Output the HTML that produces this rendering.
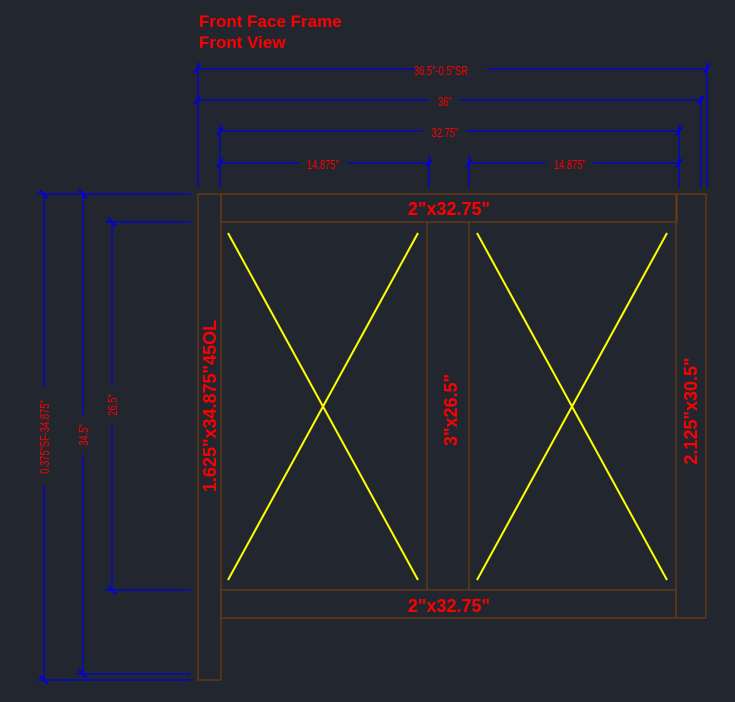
<!DOCTYPE html>
<html><head><style>
html,body{margin:0;padding:0;background:#22272f;}
svg{display:block;}
text{font-family:"Liberation Sans",sans-serif;fill:#ff0000;}
</style></head><body>
<svg width="735" height="702" viewBox="0 0 735 702">
<rect width="735" height="702" fill="#22272f"/>
<text x="199" y="27" font-size="17" font-weight="bold">Front Face Frame</text>
<text x="199" y="48" font-size="17" font-weight="bold">Front View</text>
<g stroke="#0000e0" stroke-width="1.3" fill="none">
<line x1="197" y1="69" x2="415" y2="69"/><line x1="487" y1="69" x2="707" y2="69"/>
<line x1="198" y1="62" x2="198" y2="187"/><line x1="707" y1="62" x2="707" y2="187"/>
<line x1="197" y1="100" x2="430" y2="100"/><line x1="460" y1="100" x2="701" y2="100"/>
<line x1="701" y1="96" x2="701" y2="187"/>
<line x1="220" y1="131" x2="423" y2="131"/><line x1="466" y1="131" x2="679" y2="131"/>
<line x1="220" y1="124" x2="220" y2="187"/><line x1="679" y1="124" x2="679" y2="187"/>
<line x1="220" y1="163" x2="299" y2="163"/><line x1="347" y1="163" x2="429" y2="163"/>
<line x1="469" y1="163" x2="546" y2="163"/><line x1="593" y1="163" x2="679" y2="163"/>
<line x1="429" y1="156" x2="429" y2="187"/><line x1="469" y1="156" x2="469" y2="187"/>
<line x1="37" y1="194" x2="191" y2="194"/><line x1="37" y1="680" x2="191" y2="680"/>
<line x1="76" y1="674" x2="191" y2="674"/>
<line x1="105" y1="222" x2="191" y2="222"/><line x1="105" y1="590" x2="191" y2="590"/>
<line x1="44" y1="194" x2="44" y2="387"/><line x1="44" y1="486" x2="44" y2="680"/>
<line x1="83" y1="194" x2="83" y2="415"/><line x1="83" y1="455" x2="83" y2="674"/>
<line x1="112" y1="222" x2="112" y2="385"/><line x1="112" y1="425" x2="112" y2="590"/>
<g stroke-width="2">
<path d="M194 73l6-8M704 73l6-8M194 104l6-8M698 104l6-8M217 135l6-8M676 135l6-8M217 167l6-8M426 167l6-8M466 167l6-8M676 167l6-8"/>
<path d="M40 190l8 8M40 676l8 8M79 190l8 8M79 670l8 8M108 218l8 8M108 586l8 8"/>
</g>
</g>
<g fill="#ff0000" font-size="13">
<text transform="translate(441,75) scale(0.72,1)" text-anchor="middle">36.5"-0.5"SR</text>
<text transform="translate(445,106) scale(0.72,1)" text-anchor="middle">36"</text>
<text transform="translate(445,137) scale(0.72,1)" text-anchor="middle">32.75"</text>
<text transform="translate(323,169) scale(0.72,1)" text-anchor="middle">14.875"</text>
<text transform="translate(570,169) scale(0.72,1)" text-anchor="middle">14.875"</text>
<text transform="translate(49,437) rotate(-90) scale(0.72,1)" text-anchor="middle">0.375"SF-34.875"</text>
<text transform="translate(88,435) rotate(-90) scale(0.72,1)" text-anchor="middle">34.5"</text>
<text transform="translate(117,405) rotate(-90) scale(0.72,1)" text-anchor="middle">26.5"</text>
</g>
<g stroke="#6b3a12" stroke-width="1.3" fill="none">
<rect x="198" y="194" width="23" height="486"/>
<rect x="221" y="194" width="456" height="28"/>
<rect x="676" y="194" width="30" height="424"/>
<rect x="221" y="590" width="455" height="28"/>
<line x1="427" y1="222" x2="427" y2="590"/><line x1="469" y1="222" x2="469" y2="590"/>
</g>
<g stroke="#ffff00" stroke-width="2">
<line x1="228" y1="233" x2="418" y2="580"/><line x1="228" y1="580" x2="418" y2="233"/>
<line x1="477" y1="233" x2="667" y2="580"/><line x1="477" y1="580" x2="667" y2="233"/>
</g>
<g font-size="18" font-weight="bold">
<text x="449" y="215" text-anchor="middle">2"x32.75"</text>
<text x="449" y="612" text-anchor="middle">2"x32.75"</text>
<text transform="translate(216,406) rotate(-90)" text-anchor="middle">1.625"x34.875"45OL</text>
<text transform="translate(457,410) rotate(-90)" text-anchor="middle">3"x26.5"</text>
<text transform="translate(697,411) rotate(-90)" text-anchor="middle">2.125"x30.5"</text>
</g>
</svg>
</body></html>
